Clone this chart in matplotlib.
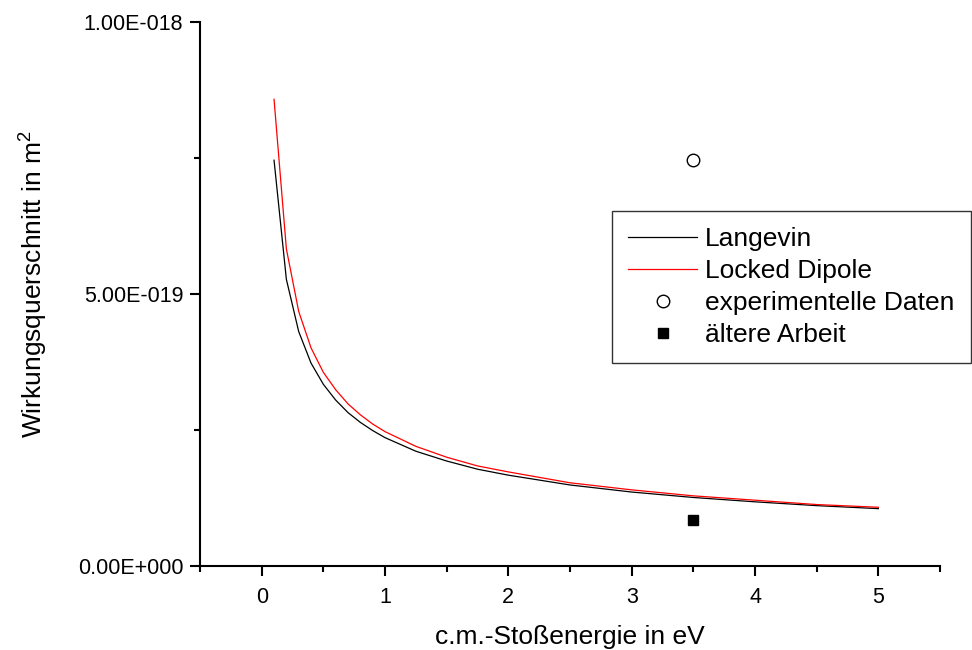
import matplotlib
matplotlib.use("Agg")
import matplotlib.pyplot as plt
from matplotlib.ticker import MultipleLocator

plt.rcParams['font.family'] = ['Liberation Sans', 'DejaVu Sans']

# collision energy (eV) and cross sections (1e-19 m^2)
energy = [0.1, 0.2, 0.3, 0.4, 0.5, 0.6, 0.7, 0.8, 0.9, 1.0,
          1.25, 1.5, 1.75, 2.0, 2.5, 3.0, 3.5, 4.0, 4.5, 5.0]
langevin = [7.46, 5.27, 4.31, 3.73, 3.34, 3.05, 2.82, 2.64, 2.49, 2.36,
            2.11, 1.93, 1.78, 1.67, 1.49, 1.36, 1.26, 1.18, 1.11, 1.055]
locked_dipole = [8.58, 5.83, 4.68, 4.01, 3.56, 3.24, 2.98, 2.78, 2.61, 2.47,
                 2.20, 2.00, 1.84, 1.73, 1.53, 1.40, 1.29, 1.21, 1.13, 1.08]

exp_energy = [3.5]
exp_sigma = [7.46]
old_energy = [3.5]
old_sigma = [0.85]

scale = 1e-19
yticks = [0.0, 5e-19, 1e-18]
yticklabels = ['0.00E+000', '5.00E-019', '1.00E-018']
xticks = [0, 1, 2, 3, 4, 5]

fig = plt.figure(figsize=(9.72, 6.5), dpi=100)
ax = fig.add_axes([0.2058, 0.1292, 0.7613, 0.8369])

ax.plot(energy, [v * scale for v in langevin], color='black', lw=0.9, label='Langevin')
ax.plot(energy, [v * scale for v in locked_dipole], color='red', lw=0.9, label='Locked Dipole')
ax.plot(exp_energy, [v * scale for v in exp_sigma], 'o', mfc='white', mec='black',
        mew=1.0, ms=9, ls='none', label='experimentelle Daten')
ax.plot(old_energy, [v * scale for v in old_sigma], 's', color='black', ms=7,
        ls='none', label='ältere Arbeit')

ax.set_xlim(-0.5, 5.5)
ax.set_ylim(0, 1e-18)
ax.set_xticks(xticks)
ax.xaxis.set_minor_locator(MultipleLocator(0.5))
ax.set_yticks(yticks)
ax.set_yticklabels(yticklabels)
ax.yaxis.set_minor_locator(MultipleLocator(2.5e-19))

for side in ['top', 'right']:
    ax.spines[side].set_visible(False)
for side in ['left', 'bottom']:
    ax.spines[side].set_linewidth(1.5)

ax.tick_params(which='major', direction='out', length=7, width=1.5, labelsize=15.5)
ax.tick_params(which='minor', direction='out', length=4, width=1.5)
ax.tick_params(axis='x', which='major', pad=8)
ax.tick_params(axis='y', which='major', pad=5)

ax.set_xlabel('c.m.-Stoßenergie in eV', fontsize=19, labelpad=12)
ax.set_ylabel(r'Wirkungsquerschnitt in m$^\mathregular{2}$', fontsize=19, labelpad=21)
ax.yaxis.label.set_y(0.518)

leg = ax.legend(loc='upper left', bbox_to_anchor=(0.6296, 0.6754),
                bbox_transform=fig.transFigure, fontsize=19, frameon=True,
                fancybox=False, shadow=False, borderpad=0.62, labelspacing=0.3,
                handlelength=2.6, handletextpad=0.3, borderaxespad=0)
leg.get_frame().set_edgecolor('black')
leg.get_frame().set_linewidth(1.0)

fig.savefig('out.png', dpi=100)
